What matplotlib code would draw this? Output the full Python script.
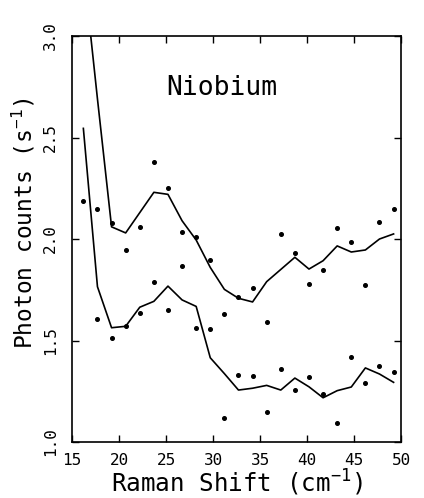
import numpy as np
import matplotlib
matplotlib.use("Agg")
import matplotlib.pyplot as plt

# channel positions (cm^-1)
shift = [16.2, 17.7, 19.2, 20.7, 22.2, 23.7, 25.2, 26.7, 28.2, 29.7, 31.2, 32.7,
         34.2, 35.7, 37.2, 38.7, 40.2, 41.7, 43.2, 44.7, 46.2, 47.7, 49.2]

# smoothed curves
upper_fit = [3.34, 2.69, 2.06, 2.03, 2.13, 2.23, 2.22, 2.09, 1.995, 1.86, 1.752, 1.708,
             1.69, 1.79, 1.85, 1.91, 1.852, 1.893, 1.966, 1.936, 1.946, 2.0, 2.025]
lower_fit = [2.545, 1.765, 1.563, 1.57, 1.664, 1.693, 1.768, 1.70, 1.668, 1.415, 1.337, 1.256,
             1.265, 1.279, 1.256, 1.315, 1.272, 1.218, 1.253, 1.271, 1.365, 1.335, 1.294]

# measured points
upper_pts = [2.189, 2.149, 2.077, 1.946, 2.059, 2.381, 2.250, 2.036, 2.010, 1.895, 1.629, 1.716,
             1.759, 1.590, 2.026, 1.931, 1.780, 1.849, 2.053, 1.985, 1.773, 2.085, 2.146]
lower_pts = [np.nan, 1.604, 1.514, 1.570, 1.637, 1.788, 1.649, 1.868, 1.562, 1.557, 1.120, 1.329,
             1.324, 1.146, 1.361, 1.258, 1.322, 1.236, 1.096, 1.420, 1.292, 1.374, 1.343]

plt.rcParams['font.family'] = ['DejaVu Sans Mono']
plt.rcParams['mathtext.default'] = 'regular'

fig = plt.figure(figsize=(4.24, 4.98), dpi=100)
ax = fig.add_axes([0.170, 0.1124, 0.776, 0.8153])

ax.plot(shift, upper_fit, color='black', lw=1.2)
ax.plot(shift, lower_fit, color='black', lw=1.2)
ax.plot(shift, upper_pts, 'o', color='black', ms=2.6, ls='none')
ax.plot(shift, lower_pts, 'o', color='black', ms=2.6, ls='none')

ax.set_xlim(15, 50)
ax.set_ylim(1.0, 3.0)
ax.set_xticks(np.arange(15, 51, 5))
ax.set_yticks([1.0, 1.5, 2.0, 2.5, 3.0])
ax.set_yticklabels(['1.0', '1.5', '2.0', '2.5', '3.0'], rotation=90, va='center')
ax.tick_params(direction='in', top=True, right=True, length=5, width=1.0,
               labelsize=11.5)
ax.tick_params(axis='x', pad=8)
ax.tick_params(axis='y', pad=10)
for s in ax.spines.values():
    s.set_linewidth(1.2)

ax.text(0.455, 0.872, 'Niobium', transform=ax.transAxes, ha='center', va='center',
        fontsize=19)
ax.set_xlabel('Raman Shift (cm$^{-1}$)', fontsize=17.5, labelpad=0)
ax.set_ylabel('Photon counts (s$^{-1}$)', fontsize=16.5)
ax.yaxis.set_label_coords(-0.105, 0.54)

fig.savefig('out.png', dpi=100)
